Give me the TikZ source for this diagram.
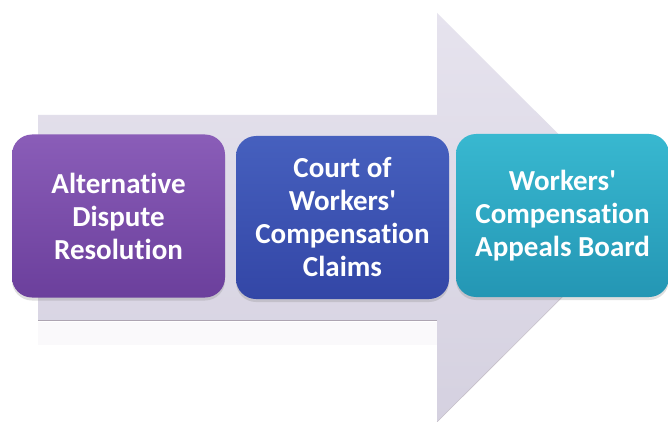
\documentclass[tikz,border=0pt]{standalone}
\usepackage{fontspec}
\setmainfont{Carlito}[RawFeature={-liga}]
\usetikzlibrary{shadows}
\definecolor{arrowtop}{HTML}{E6E3EE}
\definecolor{arrowbot}{HTML}{D5D1E0}
\definecolor{edgegray}{HTML}{ADA5B2}
\definecolor{purtop}{HTML}{8A5DB8}
\definecolor{purbot}{HTML}{6B3F9C}
\definecolor{blutop}{HTML}{4660BE}
\definecolor{blubot}{HTML}{3346A6}
\definecolor{teatop}{HTML}{38B8D0}
\definecolor{teabot}{HTML}{2496B4}
\newcommand{\apos}{\textquotesingle}
\tikzset{
  stagebox/.style={rounded corners=20pt, minimum width=213pt, minimum height=163pt,
    inner sep=0pt, align=center, text=white,
    font=\fontsize{29}{33}\selectfont\bfseries,
    drop shadow={shadow xshift=0pt, shadow yshift=-3pt, opacity=0.25}},
}
\begin{document}
\begin{tikzpicture}[x=1pt,y=-1pt]
\useasboundingbox (0,0) rectangle (668,422);
\fill[white] (0,0) rectangle (668,422);
% big arrow
\shade[top color=arrowtop, bottom color=arrowbot]
  (38,115) -- (437,115) -- (437,13) -- (642,217.5) -- (437,422) -- (437,320) -- (38,320) -- cycle;
\draw[edgegray, line width=0.9pt] (38,320) -- (437,320);
\draw[edgegray!70, line width=0.6pt] (437,422) -- (642,217.5);
% faint reflection
\fill[arrowbot!12] (38,322) rectangle (437,345);
% stage boxes
\node[stagebox, top color=purtop, bottom color=purbot] (adr) at (118.5,216)
  {Alternative\\Dispute\\Resolution};
\node[stagebox, top color=blutop, bottom color=blubot] (cwcc) at (342.5,217.5)
  {Court of\\Workers\apos\\Compensation\\Claims};
\node[stagebox, top color=teatop, bottom color=teabot] (wcab) at (562.5,215.5)
  {Workers\apos\\Compensation\\Appeals Board};
\end{tikzpicture}
\end{document}
